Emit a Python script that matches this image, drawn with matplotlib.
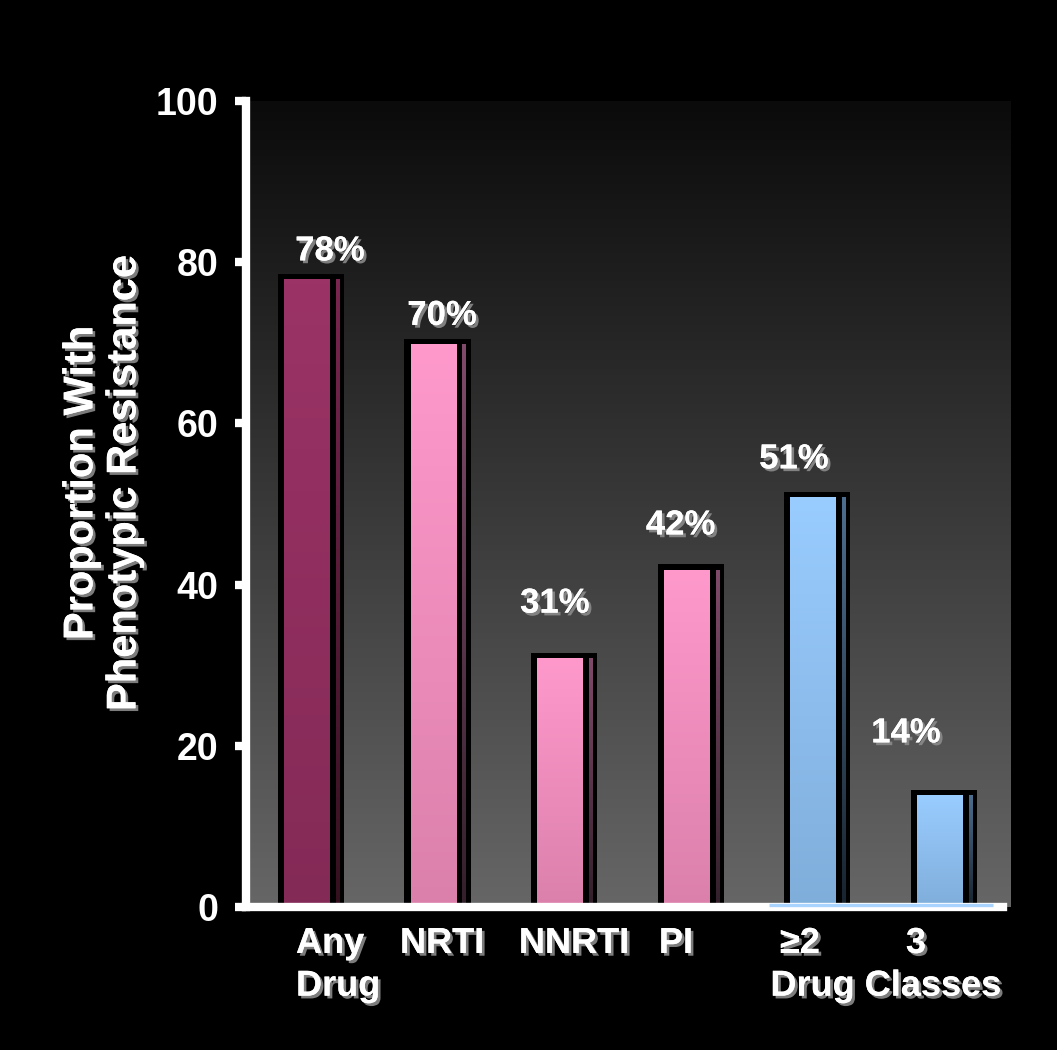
import numpy as np
import matplotlib
matplotlib.use("Agg")
import matplotlib.pyplot as plt
import matplotlib.patheffects as pe
from matplotlib.colors import LinearSegmentedColormap
from matplotlib.patches import Rectangle
from matplotlib.transforms import blended_transform_factory

plt.rcParams['font.family'] = ['Liberation Sans', 'DejaVu Sans']
plt.rcParams['font.weight'] = 'bold'

# ---- data ----
categories = ["Any\nDrug", "NRTI", "NNRTI", "PI", "\u22652", "3"]
values = [78, 70, 31, 42, 51, 14]
value_labels = ["78%", "70%", "31%", "42%", "51%", "14%"]
group_label = "Drug Classes"
y_ticks = [0, 20, 40, 60, 80, 100]
y_label = "Proportion With\nPhenotypic Resistance"

# ---- styling / layout ----
palette = {
    "any":   {"face": ("#9B3366", "#842A57"), "side": ("#7A2650", "#34101F")},
    "pink":  {"face": ("#FF99CC", "#DB80AB"), "side": ("#804A6A", "#33202B")},
    "blue":  {"face": ("#99CCFF", "#80AEDB"), "side": ("#4D6E8F", "#18242F")},
}
bar_style = ["any", "pink", "pink", "pink", "blue", "blue"]
label_dx = [0.15, 0.035, -0.073, -0.08, -0.185, -0.30]
label_dy = [3.4, 3.4, 6.7, 5.4, 4.6, 7.6]
cat_dx = [-0.118, 0.035, 0.077, -0.117, -0.137, -0.221]
cat_ha = ["left", "center", "center", "center", "center", "center"]
group_x = 4.54
row_y = [-0.057, -0.110]

shadow = [pe.withSimplePatchShadow(offset=(2, -2), shadow_rgbFace="#8a8a8a", alpha=0.9),
          pe.Normal()]

fig = plt.figure(figsize=(10.57, 10.5), dpi=100, facecolor="black")
ax = fig.add_axes([246 / 1057, (1050 - 907) / 1050, (1011 - 246) / 1057, (907 - 101) / 1050])
ax.set_facecolor("black")

# vertical background gradient (dark at top, grey at bottom)
bg = LinearSegmentedColormap.from_list("bg", ["#666666", "#0B0B0B"])
ax.imshow(np.linspace(0, 1, 256).reshape(-1, 1)[::-1], cmap=bg, aspect="auto",
          extent=[0, 1, 0, 1], transform=ax.transAxes, zorder=0, interpolation="bilinear")

x = np.arange(len(values))


def grad(ax, x0, x1, y0, y1, top, bottom, z):
    cm = LinearSegmentedColormap.from_list("g", [bottom, top])
    ax.imshow(np.linspace(0, 1, 128).reshape(-1, 1)[::-1], cmap=cm, aspect="auto",
              extent=[x0, x1, y0, y1], zorder=z, interpolation="bilinear")


# bars: black outline block, gradient face and a narrow shaded side strip
for xi, v, st in zip(x, values, bar_style):
    c = palette[st]
    ax.add_patch(Rectangle((xi - 0.261, 0), 0.522, v + 0.5, facecolor="black",
                           edgecolor="none", zorder=1.5))
    grad(ax, xi - 0.213, xi + 0.150, 0, v - 0.2, c["face"][0], c["face"][1], 1.6)
    grad(ax, xi + 0.197, xi + 0.221, 0, v - 0.2, c["side"][0], c["side"][1], 1.6)

for xi, v, lab, dx, dy in zip(x, values, value_labels, label_dx, label_dy):
    ax.text(xi + dx, v + dy, lab, ha="center", va="center", fontsize=25,
            fontweight="bold", color="white", path_effects=shadow, zorder=5)

ax.set_xlim(-0.513, 5.53)
ax.set_ylim(0, 100)

# axes lines
for s in ("top", "right"):
    ax.spines[s].set_visible(False)
for s in ("left", "bottom"):
    ax.spines[s].set_color("white")
    ax.spines[s].set_linewidth(6)
    ax.spines[s].set_zorder(3)
ax.spines["bottom"].set_bounds(-0.513, 5.47)

# light accent under the drug-class group
ax.plot([x[4] - 0.38, x[5] + 0.39], [0.3, 0.3], color="#A8D4FF", lw=2.4,
        solid_capstyle="butt", zorder=4, clip_on=False)

ax.set_xticks([])
ax.set_yticks(y_ticks)
ax.set_yticklabels([str(t) for t in y_ticks])
ax.tick_params(axis="y", colors="white", direction="out", length=8, width=6,
               pad=12, labelsize=27)
for t in ax.get_yticklabels():
    t.set_fontweight("bold")

# category labels under the axis, one text per line
tr = blended_transform_factory(ax.transData, ax.transAxes)
for xi, lab, dx, ha in zip(x, categories, cat_dx, cat_ha):
    for j, line in enumerate(lab.split("\n")):
        ax.text(xi + dx, row_y[j], line, transform=tr, ha=ha, va="baseline",
                fontsize=26, fontweight="bold", color="white",
                path_effects=shadow, clip_on=False)
ax.text(group_x, row_y[1], group_label, transform=tr, ha="center", va="baseline",
        fontsize=26, fontweight="bold", color="white", path_effects=shadow, clip_on=False)

ax.text(-0.187, 0.526, y_label, transform=ax.transAxes, rotation=90, ha="center",
        va="center", multialignment="center", fontsize=30, fontweight="bold",
        color="white", linespacing=1.1, path_effects=shadow)

fig.savefig("out.png", dpi=100, facecolor="black")
